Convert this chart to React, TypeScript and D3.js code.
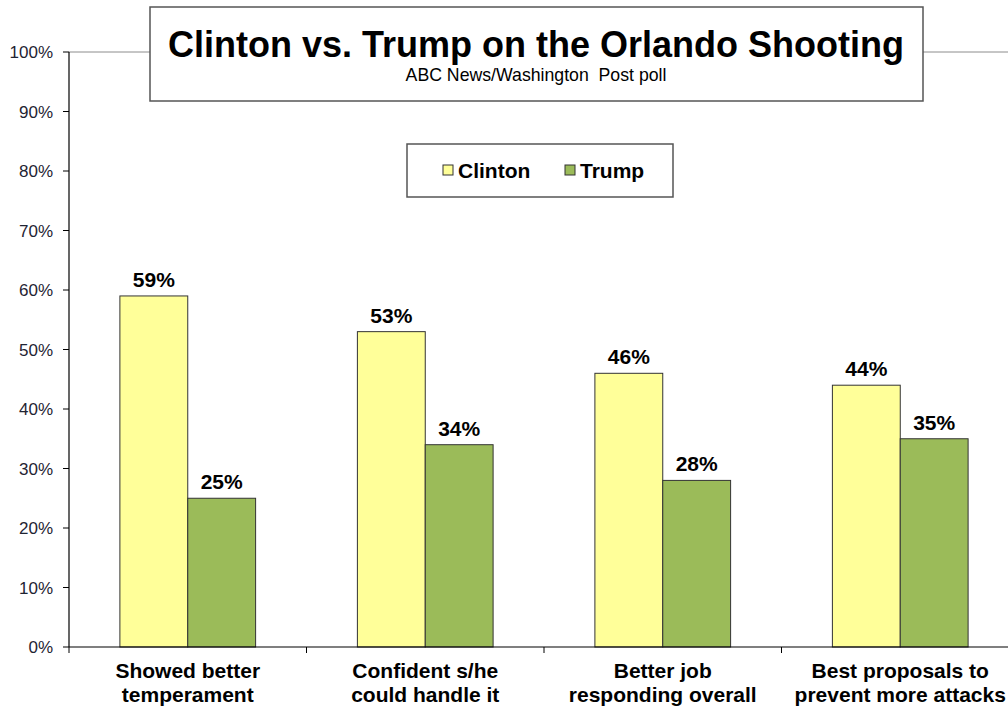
import React from "react";
import * as d3 from "d3";

const categories: string[][] = [
  ["Showed better", "temperament"],
  ["Confident s/he", "could handle it"],
  ["Better job", "responding overall"],
  ["Best proposals to", "prevent more attacks"],
];
const seriesNames = ["Clinton", "Trump"];
const clinton = [59, 53, 46, 44];
const trump = [25, 34, 28, 35];
const yTicks = [0, 10, 20, 30, 40, 50, 60, 70, 80, 90, 100];
const colors = ["#FFFF99", "#9BBB59"];

const W = 1008;
const H = 709;
const left = 69;
const right = 1019;
const top = 52;
const bottom = 647;
const font = "'Liberation Sans', Arial, sans-serif";

export default function App() {
  const x = d3
    .scaleBand<number>()
    .domain(categories.map((_, i) => i))
    .range([left, right])
    .paddingInner(0)
    .paddingOuter(0);
  const inner = d3
    .scaleBand<number>()
    .domain([0, 1])
    .range([0, x.bandwidth()])
    .paddingOuter(0.75)
    .paddingInner(0);
  const y = d3.scaleLinear().domain([0, 100]).range([bottom, top]);
  const series = [clinton, trump];

  return (
    <svg
      width={W}
      height={H}
      style={{ position: "absolute", left: 0, top: 0, background: "#fff" }}
      fontFamily={font}
    >
      <rect x={0} y={0} width={W} height={H} fill="#fff" />
      {/* top gridline */}
      <line x1={left} x2={W} y1={y(100)} y2={y(100)} stroke="#8c8c8c" strokeWidth={1} />
      {/* y axis */}
      <line x1={left} x2={left} y1={top} y2={bottom} stroke="#000" strokeWidth={1.2} />
      {yTicks.map((t) => (
        <g key={t}>
          <line x1={left - 6} x2={left} y1={y(t)} y2={y(t)} stroke="#000" strokeWidth={1} />
          <text
            x={53}
            y={y(t)}
            dy="0.36em"
            textAnchor="end"
            fontSize={17}
            fill="#1f2433"
          >
            {t}%
          </text>
        </g>
      ))}
      {/* bars */}
      {series.map((vals, s) =>
        vals.map((v, i) => {
          const bx = (x(i) as number) + (inner(s) as number);
          return (
            <g key={`${s}-${i}`}>
              <rect
                x={bx}
                y={y(v)}
                width={inner.bandwidth()}
                height={bottom - y(v)}
                fill={colors[s]}
                stroke="#333"
                strokeWidth={1}
              />
              <text
                x={bx + inner.bandwidth() / 2}
                y={y(v) - 9}
                textAnchor="middle"
                fontSize={21}
                fontWeight="bold"
                fill="#000"
              >
                {v}%
              </text>
            </g>
          );
        })
      )}
      {/* x axis */}
      <line x1={left} x2={W} y1={bottom} y2={bottom} stroke="#000" strokeWidth={1.2} />
      {categories.map((_, i) => (
        <line
          key={i}
          x1={x(i) as number}
          x2={x(i) as number}
          y1={bottom}
          y2={bottom + 6}
          stroke="#000"
        />
      ))}
      {categories.map((lines, i) => (
        <text
          key={i}
          x={(x(i) as number) + x.bandwidth() / 2}
          textAnchor="middle"
          fontSize={21}
          fontWeight="bold"
          fill="#000"
        >
          {lines.map((l, j) => (
            <tspan key={j} x={(x(i) as number) + x.bandwidth() / 2} y={678 + j * 24}>
              {l}
            </tspan>
          ))}
        </text>
      ))}
      {/* title box */}
      <rect x={150} y={7} width={773} height={94} fill="#fff" stroke="#555" strokeWidth={1.5} />
      <text x={536} y={57} textAnchor="middle" fontSize={36} fontWeight="bold" fill="#000">
        Clinton vs. Trump on the Orlando Shooting
      </text>
      <text
        x={536}
        y={81}
        textAnchor="middle"
        fontSize={17.7}
        fill="#000"
        style={{ whiteSpace: "pre" }}
      >
        {"ABC News/Washington  Post poll"}
      </text>
      {/* legend */}
      <rect x={407} y={144} width={266} height={53} fill="#fff" stroke="#555" strokeWidth={1.5} />
      {seriesNames.map((n, s) => {
        const lx = [443, 565][s];
        return (
          <g key={n}>
            <rect x={lx} y={165} width={10} height={10} fill={colors[s]} stroke="#333" strokeWidth={1} />
            <text x={lx + 15} y={178} fontSize={21} fontWeight="bold" fill="#000">
              {n}
            </text>
          </g>
        );
      })}
    </svg>
  );
}
